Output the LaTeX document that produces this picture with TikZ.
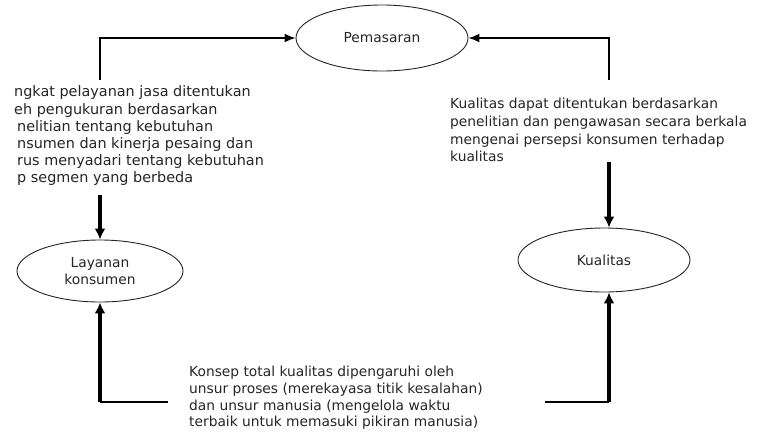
\documentclass[tikz,border=0pt]{standalone}
\usepackage{fontspec}
\setmainfont{DejaVu Sans}
\usetikzlibrary{shapes.geometric,arrows.meta,calc}
\begin{document}
\begin{tikzpicture}[x=1pt,y=-1pt,
  txt/.style={font=\fontsize{13.8}{17.6}\selectfont, text=black!85, inner sep=0pt},
  blob/.style={ellipse, draw=black!85, line width=0.9pt, inner sep=0pt,
    font=\fontsize{13.8}{17.3}\selectfont, text=black!85, align=center},
  conn/.style={line width=1.7pt, -{Latex[length=11pt,width=9pt]}},
  heavy/.style={line width=3.4pt, -{Latex[length=11pt,width=11pt]}},
  light/.style={line width=1.3pt}]
\useasboundingbox (0,0) rectangle (758,432);
\fill[white] (0,0) rectangle (758,432);
% ellipses
\node[blob, minimum width=172pt, minimum height=66pt] (pem) at (382,38) {Pemasaran};
\node[blob, minimum width=166pt, minimum height=62pt] (lay) at (100,271) {Layanan\\konsumen};
\node[blob, minimum width=172pt, minimum height=64pt] (kual) at (604,260) {Kualitas};
% text blocks
\node[txt, font=\fontsize{14.4}{17.2}\selectfont, anchor=west, align=left] (tleft) at (14,136)
  {ngkat pelayanan jasa ditentukan\\
   eh pengukuran berdasarkan\\
   \hspace*{3pt}nelitian tentang kebutuhan\\
   \hspace*{3pt}nsumen dan kinerja pesaing dan\\
   \hspace*{3pt}rus menyadari tentang kebutuhan\\
   \hspace*{3pt}p segmen yang berbeda};
\node[txt, font=\fontsize{13.8}{17.8}\selectfont, anchor=west, align=left] (tright) at (450,130)
  {Kualitas dapat ditentukan berdasarkan\\
   penelitian dan pengawasan secara berkala\\
   mengenai persepsi konsumen terhadap\\
   kualitas};
\node[txt, font=\fontsize{13.8}{16.7}\selectfont, anchor=west, align=left] (tbot) at (189,398)
  {Konsep total kualitas dipengaruhi oleh\\
   unsur proses (merekayasa titik kesalahan)\\
   dan unsur manusia (mengelola waktu\\
   terbaik untuk memasuki pikiran manusia)};
% connector anchor points
\coordinate (ltop) at (100,80);
\coordinate (lmid) at (100,195);
\coordinate (lbot) at (100,402);
\coordinate (lbotend) at (168,402);
\coordinate (rtop) at (609,80);
\coordinate (rmid) at (609,162);
\coordinate (rbot) at (609,402);
\coordinate (rbotend) at (545,402);
% connectors
\draw[conn] (ltop) |- (pem.west);
\draw[conn] (rtop) |- (pem.east);
\draw[heavy] (lmid) -- (lay.north);
\draw[heavy] (rmid) -- (rmid |- kual.north);
\draw[light] (lbotend) -- (lbot);
\draw[heavy] (lbot) -- (lay.south);
\draw[light] (rbotend) -- (rbot);
\draw[heavy] (rbot) -- (rbot |- kual.south);
\end{tikzpicture}
\end{document}
